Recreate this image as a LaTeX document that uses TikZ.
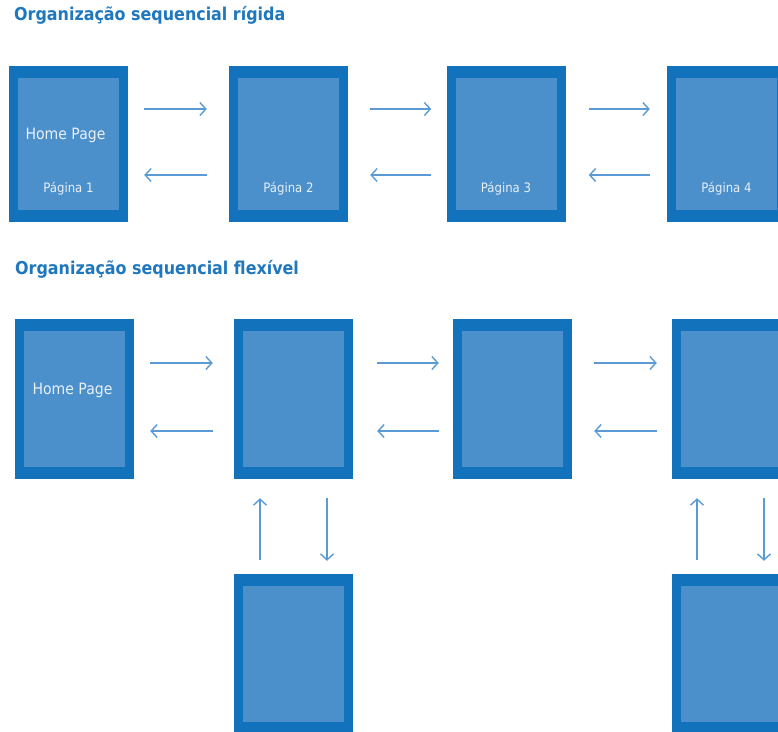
\documentclass[tikz,border=0pt]{standalone}
\usepackage{fontspec}
\setmainfont{DejaVu Sans Condensed}
\usetikzlibrary{arrows.meta}
\definecolor{frameblue}{HTML}{1273BC}
\definecolor{pageblue}{HTML}{4B8FCB}
\definecolor{arrowblue}{HTML}{5A9BD5}
\definecolor{titleblue}{HTML}{1F77BE}
\definecolor{pagetext}{HTML}{E8F0F8}
\tikzset{
  pagebox/.style={rectangle, inner sep=0pt, minimum width=119pt, minimum height=#1,
    fill=frameblue,
    path picture={\fill[pageblue]
      ([xshift=9pt,yshift=-12pt]path picture bounding box.north west) rectangle
      ([xshift=-9pt,yshift=12pt]path picture bounding box.south east);}},
  pagebox/.default=156pt,
  link/.style={draw=arrowblue, line width=1.4pt, -{Straight Barb[length=6pt,width=13pt,line width=1.4pt]}},
  title/.style={anchor=base west, text=titleblue, inner sep=0pt, font=\fontsize{17.7}{21}\selectfont\bfseries},
  bigtext/.style={text=pagetext, inner sep=0pt, font=\fontsize{15.6}{18}\selectfont},
  smalltext/.style={text=pagetext, inner sep=0pt, font=\fontsize{13}{15}\selectfont},
}
\begin{document}
\begin{tikzpicture}[x=1pt, y=-1pt]
\useasboundingbox (0,0) rectangle (778,731);

% rigid sequence
\node[title] (t1) at (14,20.5) {Organização sequencial rígida};
\node[pagebox] (p1) at (68.5,144) {};
\node[pagebox] (p2) at (288.5,144) {};
\node[pagebox] (p3) at (506,144) {};
\node[pagebox] (p4) at (726.5,144) {};
\node[bigtext] (h1) at ([shift={(-3,-9)}]p1.center) {Home Page};
\node[smalltext] (l1) at ([shift={(0,45)}]p1.center) {Página 1};
\node[smalltext] (l2) at ([shift={(0,45)}]p2.center) {Página 2};
\node[smalltext] (l3) at ([shift={(0,45)}]p3.center) {Página 3};
\node[smalltext] (l4) at ([shift={(0,45)}]p4.center) {Página 4};

\draw[link] ([shift={(16,-35)}]p1.east) -- ([shift={(-22,-35)}]p2.west);
\draw[link] ([shift={(-22,31)}]p2.west) -- ([shift={(16,31)}]p1.east);
\draw[link] ([shift={(22,-35)}]p2.east) -- ([shift={(-15,-35)}]p3.west);
\draw[link] ([shift={(-15,31)}]p3.west) -- ([shift={(22,31)}]p2.east);
\draw[link] ([shift={(23,-35)}]p3.east) -- ([shift={(-17,-35)}]p4.west);
\draw[link] ([shift={(-17,31)}]p4.west) -- ([shift={(23,31)}]p3.east);

% flexible sequence
\node[title] (t2) at (15,274) {Organização sequencial flexível};
\node[pagebox=160pt] (q1) at (74.5,399) {};
\node[pagebox=160pt] (q2) at (293.5,399) {};
\node[pagebox=160pt] (q3) at (512.5,399) {};
\node[pagebox=160pt] (q4) at (731.5,399) {};
\node[pagebox=160pt] (r1) at (293.5,654) {};
\node[pagebox=160pt] (r2) at (731.5,654) {};
\node[bigtext] (h2) at ([shift={(-2,-9)}]q1.center) {Home Page};

\draw[link] ([shift={(16,-36)}]q1.east) -- ([shift={(-21,-36)}]q2.west);
\draw[link] ([shift={(-21,32)}]q2.west) -- ([shift={(16,32)}]q1.east);
\draw[link] ([shift={(24,-36)}]q2.east) -- ([shift={(-14,-36)}]q3.west);
\draw[link] ([shift={(-14,32)}]q3.west) -- ([shift={(24,32)}]q2.east);
\draw[link] ([shift={(22,-36)}]q3.east) -- ([shift={(-15,-36)}]q4.west);
\draw[link] ([shift={(-15,32)}]q4.west) -- ([shift={(22,32)}]q3.east);

\draw[link] ([shift={(-33.5,-14)}]r1.north) -- ([shift={(-33.5,19)}]q2.south);
\draw[link] ([shift={(33.5,19)}]q2.south) -- ([shift={(33.5,-13)}]r1.north);
\draw[link] ([shift={(-34.5,-14)}]r2.north) -- ([shift={(-34.5,19)}]q4.south);
\draw[link] ([shift={(32.5,19)}]q4.south) -- ([shift={(32.5,-13)}]r2.north);
\end{tikzpicture}
\end{document}
